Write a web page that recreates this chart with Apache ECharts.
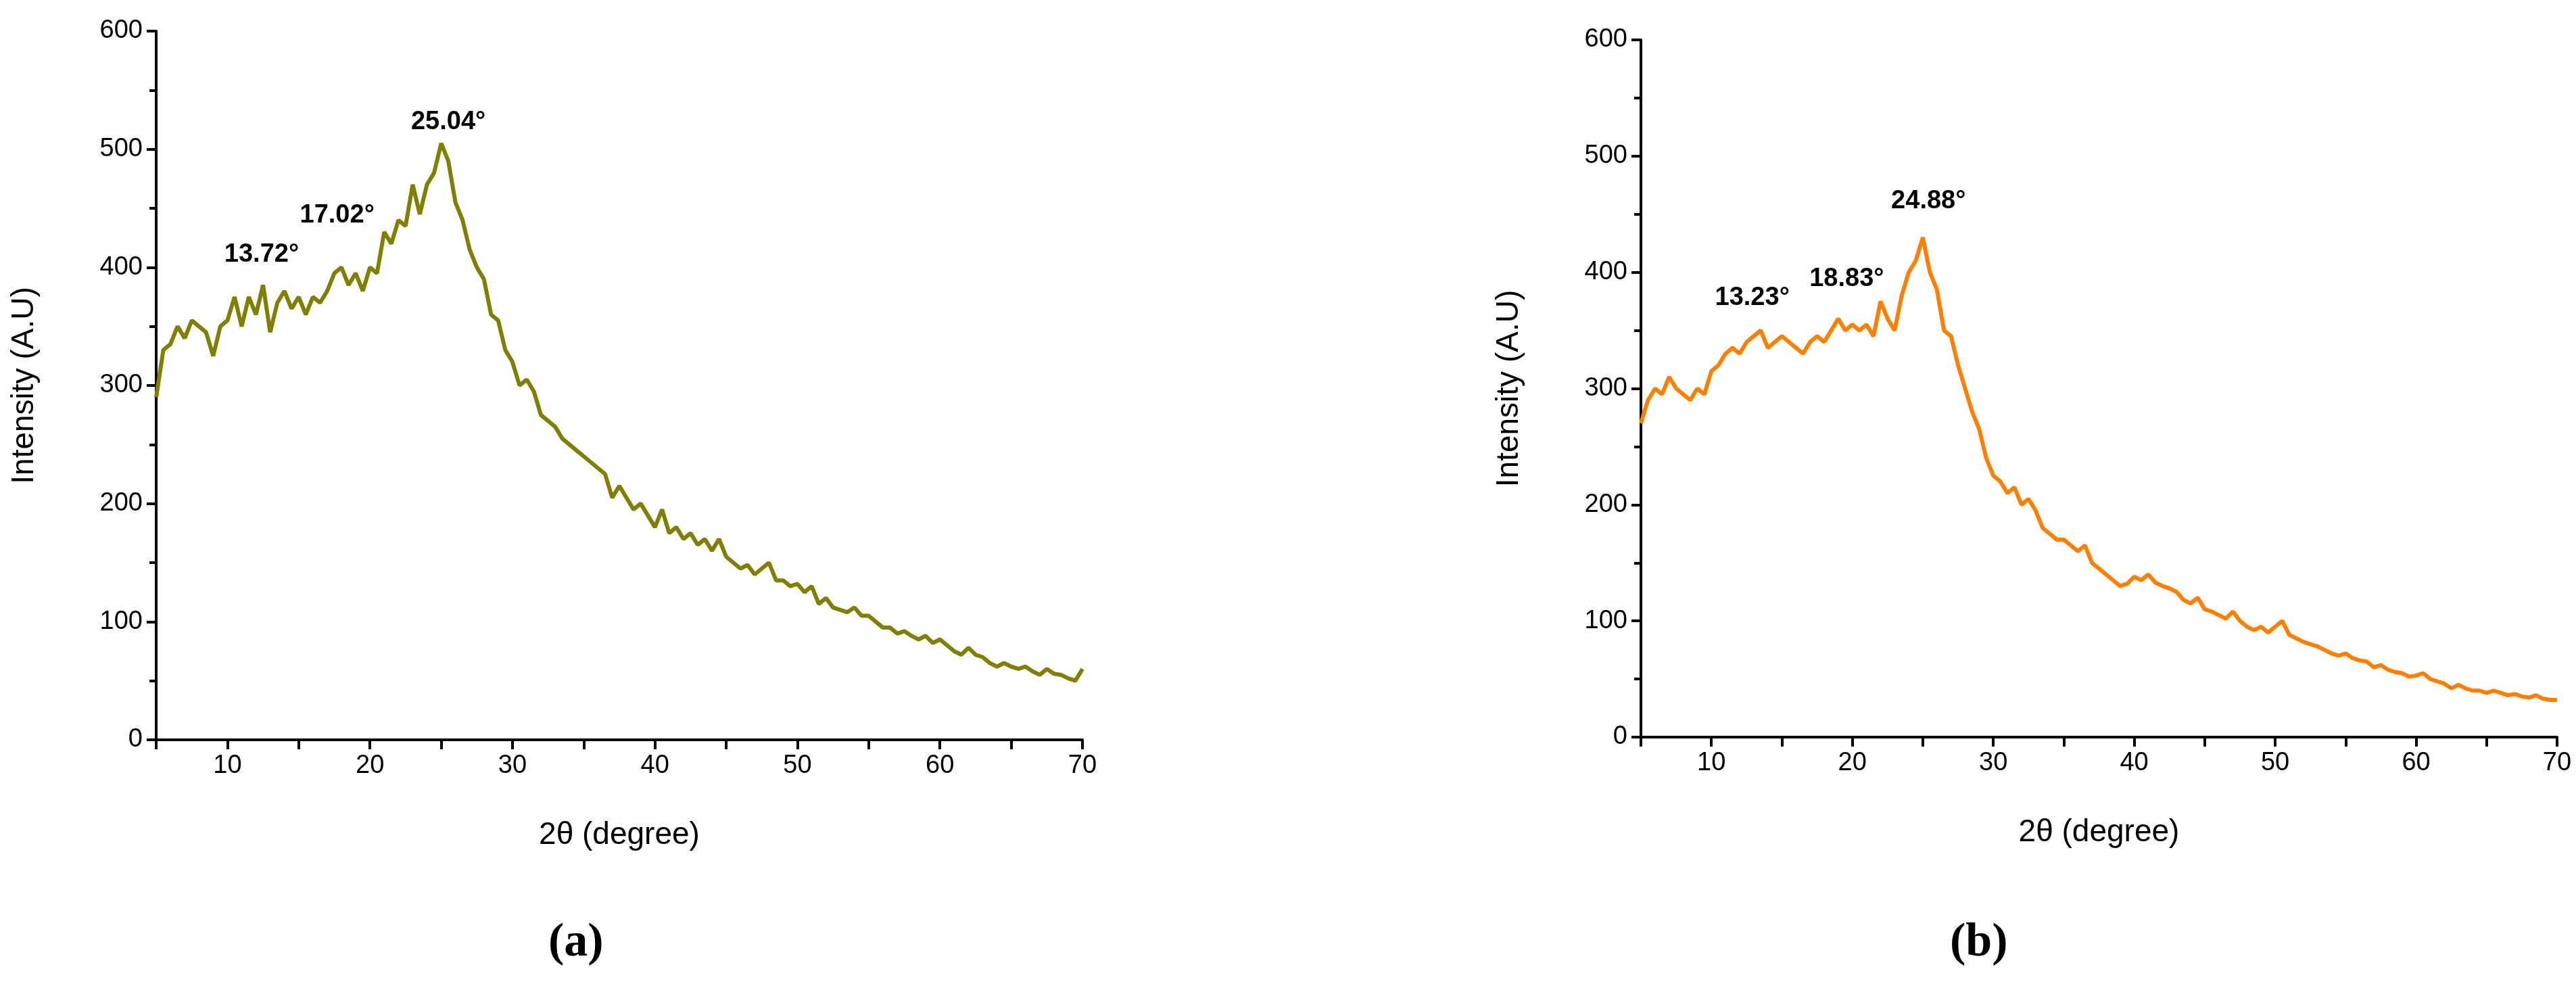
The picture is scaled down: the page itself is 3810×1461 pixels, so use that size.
<!DOCTYPE html>
<html><head><meta charset="utf-8">
<script src="https://cdn.jsdelivr.net/npm/echarts@6/dist/echarts.min.js"></script>
<style>html,body{margin:0;padding:0;background:#fff}#c{width:3810px;height:1461px}</style>
</head><body><div id="c"></div>
<script>
const angleStart = 5, angleStep = 0.5;
const intensityA = [290,330,335,350,340,355,350,345,325,350,355,375,350,375,360,385,345,370,380,365,375,360,375,370,380,395,400,385,395,380,400,395,430,420,440,435,470,445,470,480,505,490,455,440,415,400,390,360,355,330,320,300,305,295,275,270,265,255,250,245,240,235,230,225,205,215,205,195,200,190,180,195,175,180,170,175,165,170,160,170,155,150,145,148,140,145,150,135,135,130,132,125,130,115,120,112,110,108,112,105,105,100,95,95,90,92,88,85,88,82,85,80,75,72,78,72,70,65,62,65,62,60,62,58,55,60,56,55,52,50,60];
const intensityB = [270,290,300,295,310,300,295,290,300,295,315,320,330,335,330,340,345,350,335,340,345,340,335,330,340,345,340,350,360,350,355,350,355,345,375,360,350,380,400,410,430,400,385,350,345,320,300,280,265,240,225,220,210,215,200,205,195,180,175,170,170,165,160,165,150,145,140,135,130,132,138,135,140,133,130,128,125,118,115,120,110,108,105,102,108,100,95,92,95,90,95,100,88,85,82,80,78,75,72,70,72,68,66,65,60,62,58,56,55,52,53,55,50,48,46,42,45,42,40,40,38,40,38,36,37,35,34,36,33,32,32];
const peaksA = [{t:'13.72°',x:12.4,y:411},{t:'17.02°',x:17.7,y:444},{t:'25.04°',x:25.5,y:523}];
const peaksB = [{t:'13.23°',x:12.9,y:378},{t:'18.83°',x:19.6,y:394},{t:'24.88°',x:25.4,y:461}];
const xTicks = [10,20,30,40,50,60,70];

const pts = arr => arr.map((v,i)=>[angleStart+angleStep*i, v]);
const font = 'Liberation Sans';
function xAxis(gi){return {type:'value',gridIndex:gi,min:5,max:70,interval:5,
  name:'2θ (degree)',nameLocation:'middle',nameGap:118,nameTextStyle:{fontSize:46,fontFamily:font,color:'#000'},
  axisLine:{lineStyle:{color:'#000',width:4}},axisTick:{length:14,lineStyle:{color:'#000',width:4}},
  axisLabel:{fontSize:38,fontFamily:font,color:'#000',margin:20,formatter:v=>xTicks.includes(v)?String(v):''},
  splitLine:{show:false}};}
function yAxis(gi){return {type:'value',gridIndex:gi,min:0,max:600,interval:100,
  name:'Intensity (A.U)',nameLocation:'middle',nameGap:172,nameTextStyle:{fontSize:46,fontFamily:font,color:'#000'},
  axisLine:{show:true,lineStyle:{color:'#000',width:4}},axisTick:{show:true,length:14,lineStyle:{color:'#000',width:4}},
  minorTick:{show:true,splitNumber:2,length:10,lineStyle:{color:'#000',width:4}},
  axisLabel:{fontSize:38,fontFamily:font,color:'#000',margin:20},splitLine:{show:false}};}
function series(gi,data,color,peaks){return {type:'line',xAxisIndex:gi,yAxisIndex:gi,data:pts(data),showSymbol:false,
  lineStyle:{color:color,width:6},animation:false,
  markPoint:{symbol:'circle',symbolSize:1,itemStyle:{color:'rgba(0,0,0,0)'},
    label:{show:true,position:'inside',fontSize:38,fontWeight:'bold',fontFamily:font,color:'#000',formatter:p=>p.name},
    data:peaks.map(p=>({name:p.t,coord:[p.x,p.y]}))}};}
const chart = echarts.init(document.getElementById('c'));
chart.setOption({
  backgroundColor:'#fff',animation:false,
  grid:[{left:231,right:2209,top:46,bottom:367},{left:2427,right:28,top:59,bottom:371}],
  xAxis:[xAxis(0),xAxis(1)],yAxis:[yAxis(0),yAxis(1)],
  series:[series(0,intensityA,'#808000',peaksA),series(1,intensityB,'#ff8000',peaksB)],
  graphic:[
    {type:'text',left:855-44,top:1360,style:{text:'(a)',font:'bold 70px "Liberation Serif"',fill:'#000'}},
    {type:'text',left:2928-44,top:1360,style:{text:'(b)',font:'bold 70px "Liberation Serif"',fill:'#000'}}
  ]
});
</script></body></html>
